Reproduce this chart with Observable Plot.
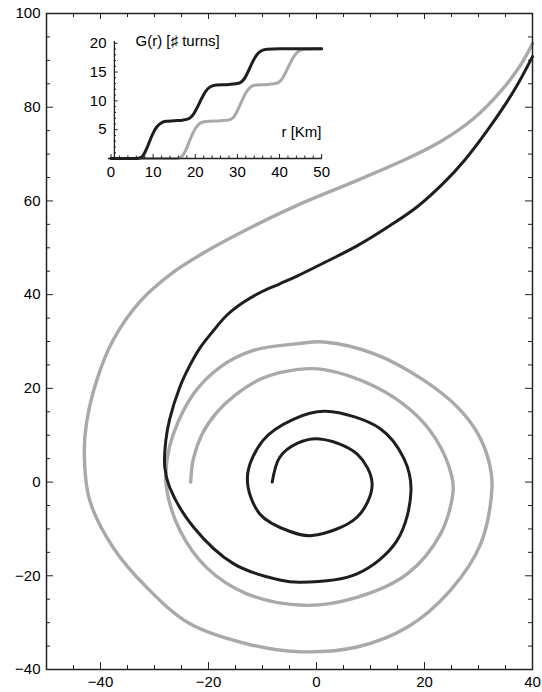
<!DOCTYPE html>
<html><head><meta charset="utf-8">
<script src="https://cdn.jsdelivr.net/npm/d3@7"></script>
<script src="https://cdn.jsdelivr.net/npm/@observablehq/plot@0.6"></script>
<style>
body{margin:0;background:#fff;font-family:"Liberation Sans",Arial,sans-serif;}
#wrap{position:relative;width:542px;height:692px;}
#inset{position:absolute;left:58px;top:16px;}
svg{overflow:visible;}
</style></head><body><div id="wrap"><div id="main"></div><div id="inset"></div></div>
<script>
// ---- main spiral data ----
const blackX = [-8.2,-6.8,-3.5,0.6,7.5,10.3,7.5,-0.8,-5.0,-10.5,-12.8,-9.9,-4.3,1.7,11.8,16.2,17.5,14.9,7.5,-3.0,-6.8,-15.4,-22.8,-27.2,-28.1,-27.9,-27.2,-25.3,-23.5,-21.6,-19.1,-16.7,-13.6,-10.5,-6.8,-3.7,1.4,7.5,13.7,18.6,23.6,27.5,31.6,36.5,40];
const blackY = [0,5.3,8.3,9.2,6.0,-0.4,-7.5,-11.4,-10.5,-6.8,1.0,8.9,13.4,15.1,11.4,5.0,-1.8,-12.5,-19.6,-21.4,-20.9,-17.4,-9.6,-1.1,3.2,8.9,13.4,20.3,24.8,28.6,32.3,35.5,38.3,40.4,42.3,43.9,46.8,50.4,54.8,58.7,63.9,68.8,75.0,83.4,90.8];
const grayX = [-23.3,-22.8,-21.2,-18.5,-15.0,-9.9,-3.7,1.4,10.6,17.6,22.2,25.0,25.3,23.0,16.8,7.5,-2.4,-13.0,-20.4,-25.3,-27.8,-27.7,-26.5,-22.8,-17.9,-11.7,-3.7,1.4,10.6,19.9,26.1,29.8,31.9,32.5,30.4,24.8,16.8,7.5,-3.3,-13.0,-23.5,-31.5,-37.7,-42.0,-43.0,-42.6,-40.7,-37.7,-32.7,-26.5,-19.1,-11.7,-3.7,6.3,15.6,23.0,29.1,34.1,37.8,40];
const grayY = [0,5.0,10.2,14.8,18.6,22.2,24.0,24.0,20.5,15.2,9.0,1.5,-2.0,-11.0,-19.6,-24.6,-26.3,-23.8,-18.2,-10.3,-1.1,4.6,10.3,18.8,24.5,28.1,29.5,29.9,27.4,21.7,16.0,10.5,4.5,-1.1,-13.2,-23.1,-31.0,-35.2,-36.2,-34.5,-30.2,-22.4,-13.9,-3.9,6.0,12.5,21.7,30.2,38.5,44.8,50.1,54.6,59.0,63.8,68.4,72.7,77.6,83.4,89.0,93.6];

// main axes ticks
const xMajor = [-40,-20,0,20,40];
const xMinor = [-50,-45,-35,-30,-25,-15,-10,-5,5,10,15,25,30,35];
const yMajor = [-40,-20,0,20,40,60,80,100];
const yMinor = [-35,-30,-25,-15,-10,-5,5,10,15,25,30,35,45,50,55,65,70,75,85,90,95];

// ---- inset data G(r) ----
const gBlackR = [0,6,7,7.5,8,8.5,9,9.5,10,10.5,11,12,13,15,17,18.5,19.5,20.5,21.5,22.5,23.5,25,28,30.5,31.5,32.5,33.5,34.5,35.5,37,40,50];
const gBlackG = [0,0,0.15,0.4,1.0,1.8,2.7,3.6,4.4,5.1,5.6,6.2,6.45,6.55,6.65,6.9,7.6,8.9,10.4,11.7,12.4,12.75,12.85,13.1,13.7,15.0,16.6,17.9,18.6,18.95,19.05,19.05];
const gGrayR = [0,15.5,16.5,17,17.5,18,18.5,19,19.5,20,20.5,21.5,23,26,28,29,30,31,32,33,34,37,39.5,40.5,41.5,42.5,43.5,44.5,46,50];
const gGrayG = [0,0,0.2,0.5,1.1,1.9,2.8,3.7,4.5,5.2,5.7,6.25,6.45,6.55,6.7,7.1,8.3,9.9,11.4,12.3,12.7,12.85,13.1,13.7,15.0,16.5,17.8,18.6,18.95,19.05];
const insetXTicks = [0,10,20,30,40,50];
const insetXMinor = [2,4,6,8,12,14,16,18,22,24,26,28,32,34,36,38,42,44,46,48];
const insetYTicks = [5,10,15,20];
const insetYMinor = [1,2,3,4,6,7,8,9,11,12,13,14,16,17,18,19];
const insetTitle = "G(r) [\u266F turns]";
const insetXLabel = "r [Km]";

const FONT = '"Liberation Sans", Arial, sans-serif';
const ink = "#222";

// ---- main plot ----
const W = 542, H = 692, mL = 46, mT = 13, mR = 10, mB = 23;
const innerW = W - mL - mR, innerH = H - mT - mB;
const idx = n => d3.range(n);

const main = Plot.plot({
  width: W, height: H,
  marginLeft: mL, marginTop: mT, marginRight: mR, marginBottom: mB,
  style: {fontFamily: FONT, background: "transparent"},
  x: {domain: [-50, 40], label: null},
  y: {domain: [-40, 100], label: null},
  marks: [
    Plot.line(idx(grayX.length), {x: grayX, y: grayY, stroke: "#a9a9a9", strokeWidth: 3.4, curve: "catmull-rom"}),
    Plot.line(idx(blackX.length), {x: blackX, y: blackY, stroke: "#1e1e1e", strokeWidth: 3, curve: "catmull-rom"}),
    Plot.frame({stroke: ink, strokeWidth: 1.5}),
    Plot.tickX(xMajor, {x: d => d, insetTop: innerH - 7, stroke: ink}),
    Plot.tickX(xMinor, {x: d => d, insetTop: innerH - 4, stroke: ink}),
    Plot.tickX(xMajor, {x: d => d, insetBottom: innerH - 6, stroke: ink}),
    Plot.tickX(xMinor, {x: d => d, insetBottom: innerH - 4, stroke: ink}),
    Plot.tickY(yMajor, {y: d => d, insetRight: innerW - 7, stroke: ink}),
    Plot.tickY(yMinor, {y: d => d, insetRight: innerW - 4, stroke: ink}),
    Plot.tickY(yMajor, {y: d => d, insetLeft: innerW - 7, stroke: ink}),
    Plot.tickY(yMinor, {y: d => d, insetLeft: innerW - 4, stroke: ink}),
    Plot.axisX({ticks: xMajor, tickSize: 0, tickPadding: 7, fontSize: 15, label: null, fill: "#000"}),
    Plot.axisY({ticks: yMajor, tickSize: 0, tickPadding: 6, fontSize: 15, label: null, fill: "#000"})
  ]
});
document.getElementById("main").append(main);

// ---- inset plot ----
const iW = 280, iH = 165, iL = 50, iT = 25, iR = 16, iB = 23;
const inset = Plot.plot({
  width: iW, height: iH,
  marginLeft: iL, marginTop: iT, marginRight: iR, marginBottom: iB,
  style: {fontFamily: FONT, background: "transparent", overflow: "visible"},
  x: {domain: [-0.6, 50.2], label: null},
  y: {domain: [0, 20.3], label: null},
  marks: [
    Plot.line(idx(gGrayR.length), {x: gGrayR, y: gGrayG, stroke: "#a9a9a9", strokeWidth: 3, curve: "monotone-x"}),
    Plot.line(idx(gBlackR.length), {x: gBlackR, y: gBlackG, stroke: "#1e1e1e", strokeWidth: 3, curve: "monotone-x"}),
    Plot.ruleY([0], {stroke: ink, strokeWidth: 1.3}),
    Plot.ruleX([0.8], {stroke: ink, strokeWidth: 1.3}),
    Plot.tickX(insetXTicks, {x: d => d, insetTop: iH - iT - iB - 4, stroke: ink}),
    Plot.tickX(insetXMinor, {x: d => d, insetTop: iH - iT - iB - 2.5, stroke: ink}),
    Plot.ruleY(insetYTicks, {y: d => d, x1: 0.8, x2: 1.7, stroke: ink}),
    Plot.ruleY(insetYMinor, {y: d => d, x1: 0.8, x2: 1.3, stroke: ink}),
    Plot.axisX({ticks: insetXTicks, tickSize: 0, tickPadding: 8, fontSize: 15, label: null, fill: "#000"}),
    Plot.axisY({ticks: insetYTicks, tickSize: 0, tickPadding: 2, fontSize: 15, label: null, fill: "#000"}),
    Plot.text([insetTitle], {frameAnchor: "top-left", dx: 27, dy: -6, fontSize: 15, textAnchor: "start", fill: "#000"}),
    Plot.text([insetXLabel], {frameAnchor: "bottom-right", dx: -1, dy: -22, fontSize: 15, textAnchor: "end", fill: "#000"})
  ]
});
document.getElementById("inset").append(inset);
</script></body></html>
